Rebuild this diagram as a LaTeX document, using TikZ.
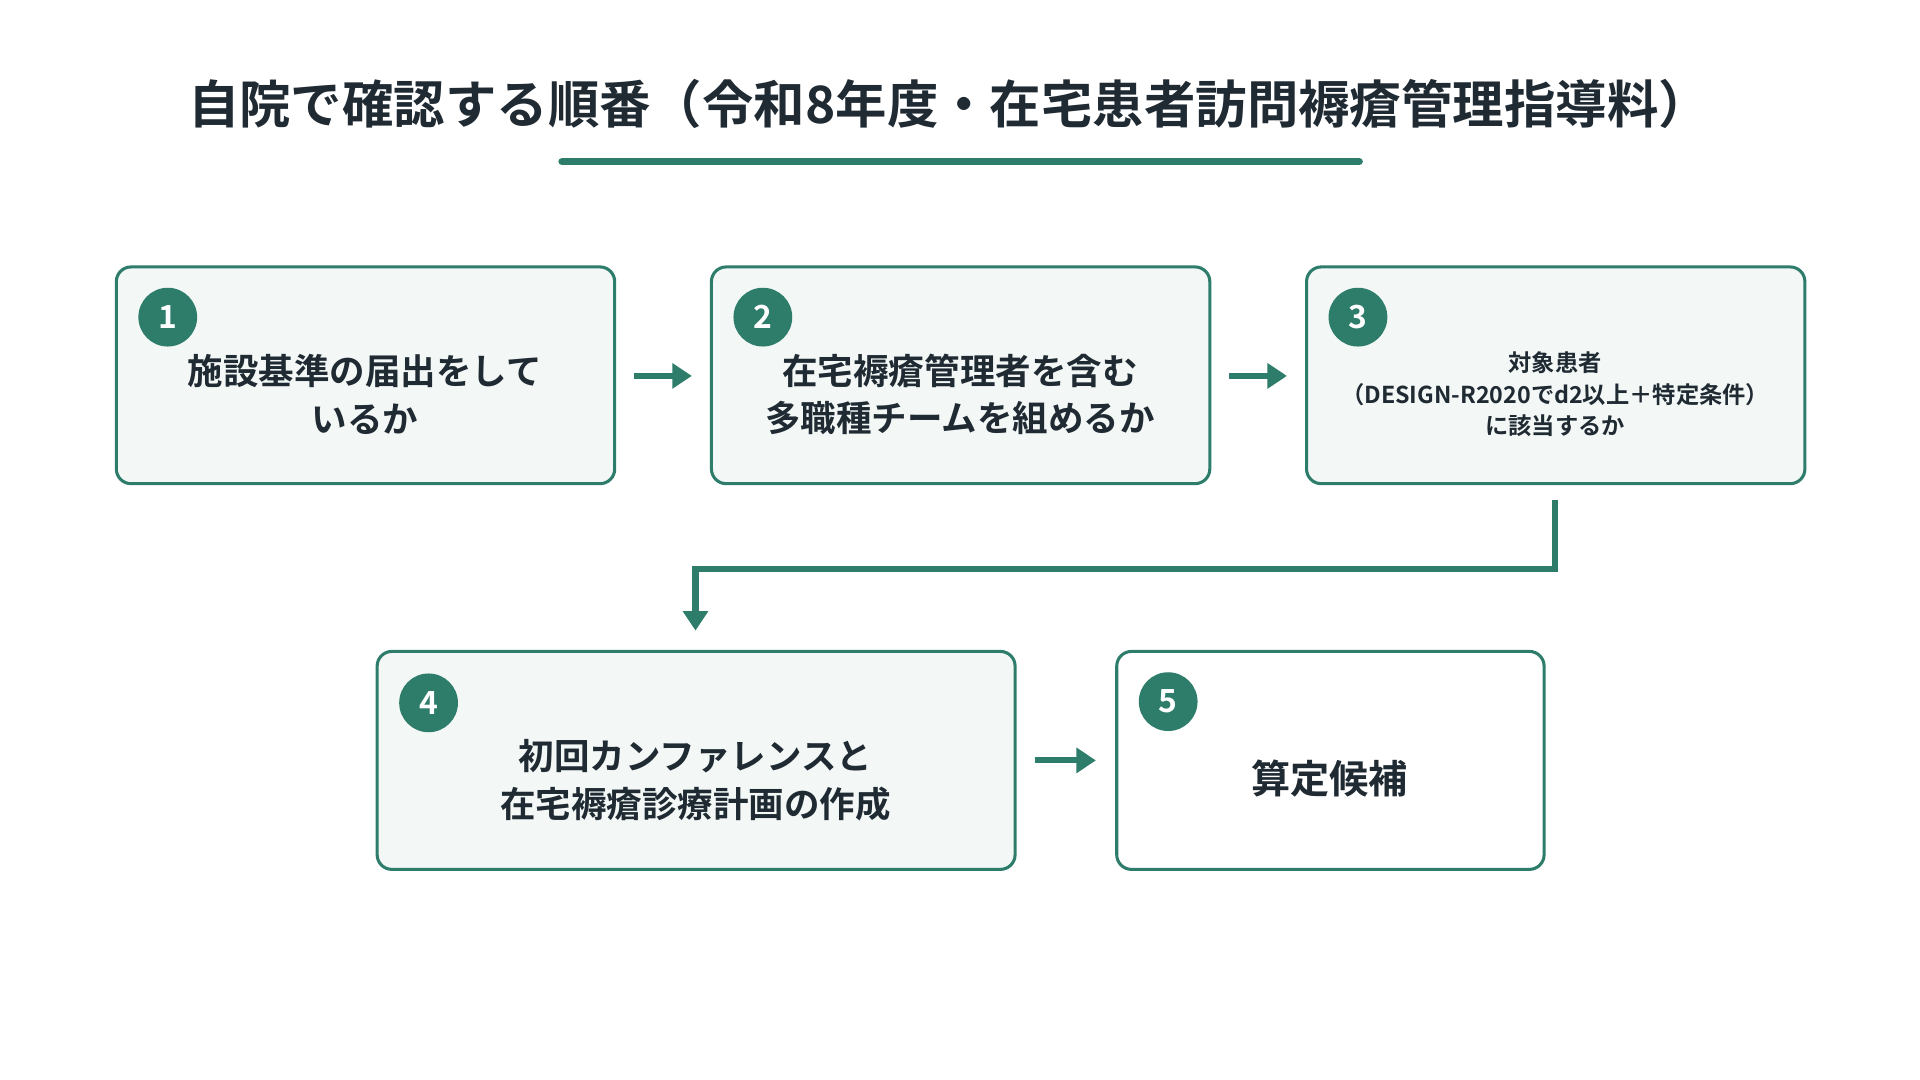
\documentclass[tikz,border=0pt]{standalone}
\usepackage{fontspec}
\setmainfont{Noto Sans CJK JP}[BoldFont={* Bold}]
\usetikzlibrary{arrows.meta}
\definecolor{teal}{HTML}{2E7D6B}
\definecolor{boxfill}{HTML}{F3F8F6}
\definecolor{ink}{HTML}{1F2A33}
\tikzset{x=1pt,y=-1pt,
 box/.style={draw=teal,line width=2.5pt,rounded corners=12pt,fill=boxfill},
 num/.style={circle,fill=teal,minimum size=48pt,inner sep=0pt,text=white,font=\bfseries\fontsize{26}{26}\selectfont},
 txt/.style={text=ink,align=center,font=\bfseries\fontsize{29}{39}\selectfont},
 arr/.style={draw=teal,line width=5pt,-{Triangle[length=16pt,width=20pt]}}}
\begin{document}
\begin{tikzpicture}
\useasboundingbox (0,0) rectangle (1568,882);
\node[text=ink,font=\bfseries\fontsize{42}{42}\selectfont] (title) at (775,85) {自院で確認する順番（令和8年度・在宅患者訪問褥瘡管理指導料）};
\coordinate (ul1) at (459,132); \coordinate (ul2) at (1110,132);
\draw[teal,line width=6pt,line cap=round] (ul1) -- (ul2);
\path[box] (95,218) rectangle (502,395);
\path[box] (581,218) rectangle (988,395);
\path[box] (1067,218) rectangle (1474,395);
\path[box] (308,532) rectangle (829,710);
\path[box,fill=white] (912,532) rectangle (1261,710);
\node[num] (n1) at (137,259) {1};
\node[num] (n2) at (623,259) {2};
\node[num] (n3) at (1109,259) {3};
\node[num] (n4) at (350,574) {4};
\node[num] (n5) at (954,573) {5};
\node[txt] (t1) at (298,322) {施設基準の届出をして\\いるか};
\node[txt] (t2) at (784,322) {在宅褥瘡管理者を含む\\多職種チームを組めるか};
\node[txt,font=\bfseries\fontsize{19}{26}\selectfont] (t3) at (1270,322) {対象患者\\（DESIGN-R2020でd2以上＋特定条件）\\に該当するか};
\node[txt] (t4) at (568,637) {初回カンファレンスと\\在宅褥瘡診療計画の作成};
\node[txt,font=\bfseries\fontsize{32}{32}\selectfont] (t5) at (1086,636) {算定候補};
\coordinate (a1s) at (518,307); \coordinate (a1e) at (565,307);
\coordinate (a2s) at (1004,307); \coordinate (a2e) at (1051,307);
\coordinate (a4s) at (845,621); \coordinate (a4e) at (895,621);
\coordinate (c1) at (1270,408); \coordinate (c2) at (1270,465);
\coordinate (c3) at (568,465); \coordinate (c4) at (568,515);
\draw[arr] (a1s) -- (a1e);
\draw[arr] (a2s) -- (a2e);
\draw[arr] (a4s) -- (a4e);
\draw[arr] (c1) -- (c2) -- (c3) -- (c4);
\end{tikzpicture}
\end{document}
